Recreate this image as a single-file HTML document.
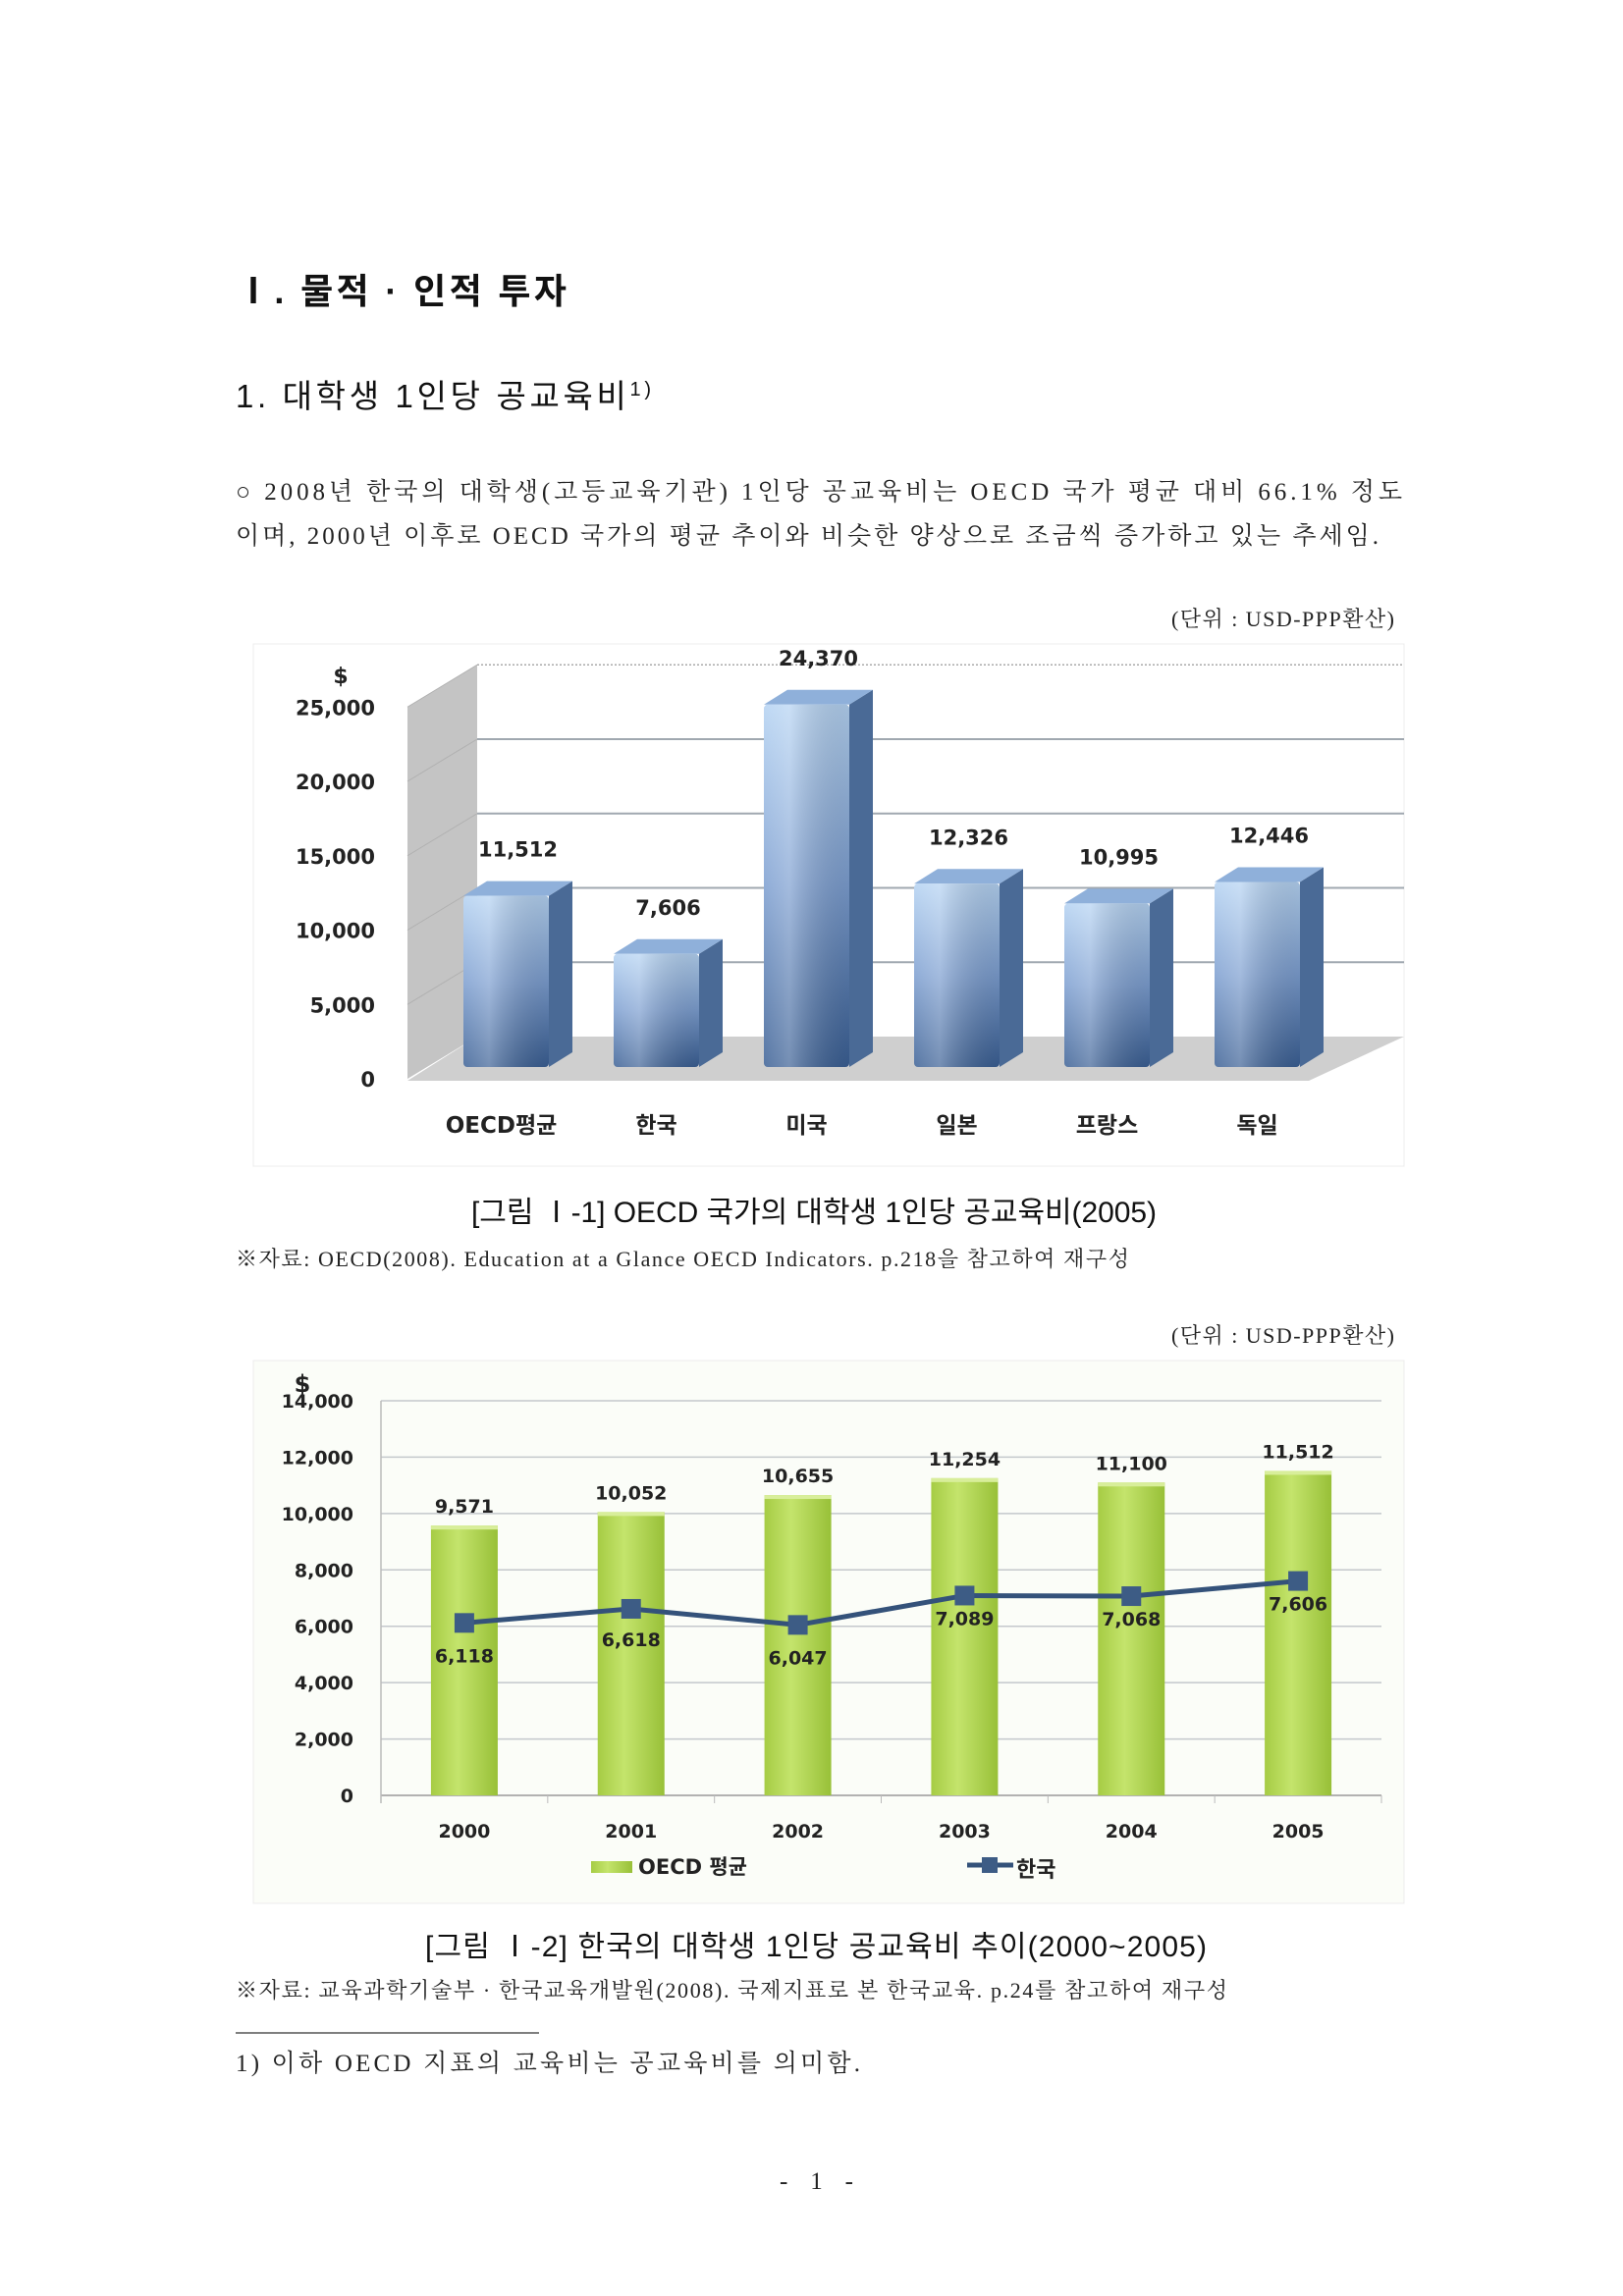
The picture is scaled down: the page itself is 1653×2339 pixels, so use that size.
<!DOCTYPE html>
<html><head><meta charset="utf-8"><style>
html,body{margin:0;padding:0;background:#fff;}
svg{display:block;}
.s{font-family:"Liberation Serif","Noto Serif CJK SC","Noto Sans CJK KR",serif;fill:#222;}
.g{font-family:"Liberation Sans","Noto Sans CJK KR",sans-serif;fill:#111;}
.b{font-family:"DejaVu Sans","Noto Sans CJK KR",sans-serif;font-weight:bold;fill:#222;}
</style></head><body>
<svg id="page" width="1653" height="2339" viewBox="0 0 1653 2339" xmlns="http://www.w3.org/2000/svg">
<defs>
<linearGradient id="bf" x1="0" y1="0" x2="0" y2="1"><stop offset="0" stop-color="#b4d2f2"/><stop offset="0.5" stop-color="#7c9ed0"/><stop offset="1" stop-color="#3a5f94"/></linearGradient>
<linearGradient id="bfh" x1="0" y1="0" x2="1" y2="0"><stop offset="0" stop-color="#fff" stop-opacity="0.15"/><stop offset="0.3" stop-color="#fff" stop-opacity="0.3"/><stop offset="1" stop-color="#000" stop-opacity="0.1"/></linearGradient>
<linearGradient id="gb" x1="0" y1="0" x2="1" y2="0"><stop offset="0" stop-color="#a6cc44"/><stop offset="0.4" stop-color="#c4e46c"/><stop offset="1" stop-color="#98c038"/></linearGradient>
</defs>
<text class="g" x="240" y="309" font-size="36" font-weight="bold" textLength="337">Ⅰ. 물적 · 인적 투자</text>
<text class="g" x="240" y="415" font-size="33" textLength="423">1. 대학생 1인당 공교육비<tspan font-size="20" dy="-12">1)</tspan></text>
<text class="s" x="240" y="509" font-size="25" textLength="1188">○ 2008년 한국의 대학생(고등교육기관) 1인당 공교육비는 OECD 국가 평균 대비 66.1% 정도</text>
<text class="s" x="240" y="554" font-size="25" textLength="1164">이며, 2000년 이후로 OECD 국가의 평균 추이와 비슷한 양상으로 조금씩 증가하고 있는 추세임.</text>
<text class="s" x="1193" y="638" font-size="22" textLength="227">(단위 : USD-PPP환산)</text>

<rect x="258" y="656" width="1172" height="532" fill="#fff" stroke="#ececec"/>
<g id="chart1"></g>

<text class="g" x="480" y="1245" font-size="30" textLength="698">[그림 Ⅰ-1] OECD 국가의 대학생 1인당 공교육비(2005)</text>
<text class="s" x="240" y="1290" font-size="22" textLength="910">※자료: OECD(2008). Education at a Glance OECD Indicators. p.218을 참고하여 재구성</text>
<text class="s" x="1193" y="1368" font-size="22" textLength="227">(단위 : USD-PPP환산)</text>

<rect x="258" y="1386" width="1172" height="553" fill="#fbfdf8" stroke="#ececec"/>
<g id="chart2"></g>

<text class="g" x="433" y="1993" font-size="30" textLength="796">[그림 Ⅰ-2] 한국의 대학생 1인당 공교육비 추이(2000~2005)</text>
<text class="s" x="240" y="2035" font-size="22" textLength="1010">※자료: 교육과학기술부 · 한국교육개발원(2008). 국제지표로 본 한국교육. p.24를 참고하여 재구성</text>
<line x1="240" y1="2071" x2="549" y2="2071" stroke="#555" stroke-width="1.5"/>
<text class="s" x="240" y="2110" font-size="25" textLength="636">1) 이하 OECD 지표의 교육비는 공교육비를 의미함.</text>
<text class="s" x="794" y="2230" font-size="25" textLength="75">- 1 -</text>
</svg>
<script>
const NS="http://www.w3.org/2000/svg";
const c1Categories=["OECD평균","한국","미국","일본","프랑스","독일"];
const c1Values=[11512,7606,24370,12326,10995,12446];
const c1Ticks=[0,5000,10000,15000,20000,25000];
const c2Years=["2000","2001","2002","2003","2004","2005"];
const c2Oecd=[9571,10052,10655,11254,11100,11512];
const c2Korea=[6118,6618,6047,7089,7068,7606];
const c2Ticks=[0,2000,4000,6000,8000,10000,12000,14000];
function mk(p,tag,a,txt){const e=document.createElementNS(NS,tag);for(const k in a)e.setAttribute(k,a[k]);if(txt!==undefined)e.textContent=txt;p.appendChild(e);return e;}
function fmt(v){return v.toLocaleString("en-US");}
// chart 1
(function(){
const g=document.getElementById("chart1");
const k=0.01515, yF=1087, yB=1056, xL=415, xW=486, xR=1403;
const yFront=v=>yF-v*k, yBack=v=>yB-v*k;
const xBar=i=>472+i*153;
let w=mk(g,"polygon",{points:`${xL},${yF+12} ${xL},${yF+12-25000*k} ${xW},${yBack(25000)} ${xW},${yB}`,fill:"#c4c4c4"});


let fl=mk(g,"polygon",{points:`${xL},${yF+14} ${xW},${yB} ${xR+27},${yB} ${xR-70},${yF+14}`,fill:"#cfcfcf"});


c1Ticks.forEach(t=>{
 if(t>0){const ln=mk(g,"line",{x1:xW,x2:xR+27,y1:yBack(t),y2:yBack(t),stroke:t===25000?"#aaa":"#a0a8b0","stroke-width":t===25000?1.5:2,"stroke-dasharray":t===25000?"2 2":"none"});
 
 
 const dl=mk(g,"line",{x1:xL,y1:yF+12-t*k,x2:xW,y2:yBack(t),stroke:"#b0b0b0","stroke-width":1});
 
 }
 const tl=mk(g,"text",{class:"b",x:382,y:yF+12-t*k+8,"font-size":21,"text-anchor":"end"},fmt(t));
 
 
});
const ds=mk(g,"text",{class:"b",x:347,y:696,"font-size":22,"text-anchor":"middle"},"$");


const dx=24, dy=-15, bw=87;
c1Values.forEach((v,i)=>{
 const x=xBar(i), top=yFront(v);
 const bg=mk(g,"g",{});
 
 
 mk(bg,"polygon",{points:`${x+bw},${yF} ${x+bw},${top} ${x+bw+dx},${top+dy} ${x+bw+dx},${yF+dy}`,fill:"#4a6a96"});
 mk(bg,"polygon",{points:`${x},${top} ${x+dx},${top+dy} ${x+bw+dx},${top+dy} ${x+bw},${top}`,fill:"#8fb0da"});
 mk(bg,"rect",{x:x,y:top,width:bw,height:yF-top,fill:"url(#bf)",rx:4});
 mk(bg,"rect",{x:x,y:top,width:bw,height:yF-top,fill:"url(#bfh)",rx:4});
 const vl=mk(g,"text",{class:"b",x:x+bw/2+12,y:top-40,"font-size":21,"text-anchor":"middle"},fmt(v));
 
 
 const cl=mk(g,"text",{class:"b",x:x+bw/2-(i===0?5:0),y:1154,"font-size":23,"text-anchor":"middle"},c1Categories[i]);
 
 
});
})();
// chart 2
(function(){
const g=document.getElementById("chart2");
const y0=1829, k=402/14000, xl=388, xr=1407, band=(xr-xl)/c2Years.length;
const Y=v=>y0-v*k, X=i=>xl+band*(i+0.5);
c2Ticks.forEach(t=>{
 const ln=mk(g,"line",{x1:xl,x2:xr,y1:Y(t),y2:Y(t),stroke:t===0?"#999":"#c4c8cc","stroke-width":1.5});
 
 
 const tl=mk(g,"text",{class:"b",x:360,y:Y(t)+7,"font-size":19,"text-anchor":"end"},fmt(t));
 
 
});
mk(g,"line",{x1:xl,x2:xl,y1:Y(14000),y2:y0+8,stroke:"#bbb","stroke-width":1.5});
for(let i=0;i<=c2Years.length;i++){mk(g,"line",{x1:xl+band*i,x2:xl+band*i,y1:y0,y2:y0+8,stroke:"#bbb"});}
const ds=mk(g,"text",{class:"b",x:308,y:1418,"font-size":24,"text-anchor":"middle"},"$");


const bw=68;
c2Oecd.forEach((v,i)=>{
 const r=mk(g,"rect",{x:X(i)-bw/2,y:Y(v),width:bw,height:y0-Y(v),fill:"url(#gb)"});
 
 
 mk(g,"rect",{x:X(i)-bw/2,y:Y(v),width:bw,height:4,fill:"#d8ee9a"});
 const vl=mk(g,"text",{class:"b",x:X(i),y:Y(v)-13,"font-size":19,"text-anchor":"middle"},fmt(v));
 
 
 const xt=mk(g,"text",{class:"b",x:X(i),y:1872,"font-size":19,"text-anchor":"middle"},c2Years[i]);
 
 
});
const pts=c2Korea.map((v,i)=>X(i)+","+Y(v)).join(" ");
const pl=mk(g,"polyline",{points:pts,fill:"none",stroke:"#34527a","stroke-width":5});


c2Korea.forEach((v,i)=>{
 const m=mk(g,"rect",{x:X(i)-10,y:Y(v)-10,width:20,height:20,fill:"#3d5c85"});
 
 
 const off=i>=3?30:(i===1?38:40);
 const vl=mk(g,"text",{class:"b",x:X(i),y:Y(v)+off,"font-size":19,"text-anchor":"middle"},fmt(v));
 
 
});
const lg=mk(g,"g",{});


mk(lg,"rect",{x:602,y:1896,width:42,height:12,fill:"url(#gb)"});
const t1=mk(lg,"text",{class:"b",x:650,y:1909,"font-size":21},"OECD 평균");


mk(lg,"line",{x1:985,x2:1032,y1:1900,y2:1900,stroke:"#34527a","stroke-width":5});
mk(lg,"rect",{x:1000,y:1892,width:16,height:16,fill:"#3d5c85"});
const t2=mk(lg,"text",{class:"b",x:1035,y:1912,"font-size":22},"한국");


})();
</script>
</body></html>
